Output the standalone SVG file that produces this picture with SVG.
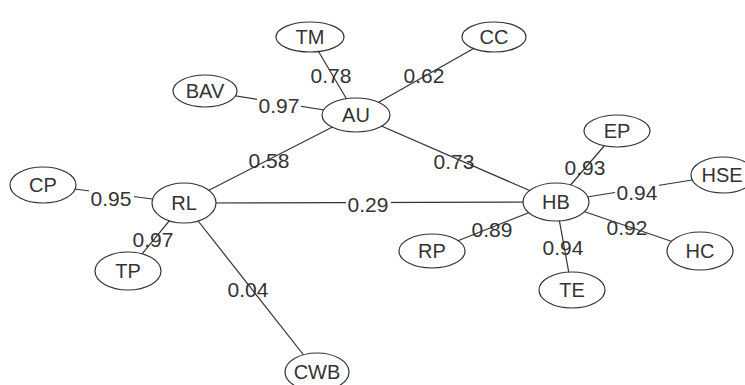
<svg xmlns="http://www.w3.org/2000/svg" width="745" height="385" viewBox="0 0 745 385">
  <style>
    .edge { stroke: #333; stroke-width: 1.2; fill: none; }
    .node ellipse { fill: #fff; stroke: #333; stroke-width: 1.2; }
    text { font-family: "Liberation Sans", Arial, sans-serif; font-size: 20px; fill: #333; text-anchor: middle; }
    .lbl { font-size: 21px; }
    .bg { fill: #fff; }
  </style>
  <rect width="745" height="385" fill="#fff"/>

  <!-- connectors, centre to centre; ellipses are painted over the ends -->
  <g id="connectors">
    <line class="edge" x1="310" y1="37" x2="356" y2="115"/>
    <line class="edge" x1="494" y1="37" x2="356" y2="115"/>
    <line class="edge" x1="205" y1="91" x2="356" y2="115"/>
    <line class="edge" x1="184" y1="203" x2="356" y2="115"/>
    <line class="edge" x1="356" y1="115" x2="556" y2="202"/>
    <line class="edge" x1="184" y1="203" x2="556" y2="202"/>
    <line class="edge" x1="43" y1="185" x2="184" y2="203"/>
    <line class="edge" x1="128" y1="271" x2="184" y2="203"/>
    <line class="edge" x1="317" y1="372" x2="184" y2="203"/>
    <line class="edge" x1="617" y1="131" x2="556" y2="202"/>
    <line class="edge" x1="723" y1="175" x2="556" y2="202"/>
    <line class="edge" x1="700" y1="251" x2="556" y2="202"/>
    <line class="edge" x1="572" y1="290" x2="556" y2="202"/>
    <line class="edge" x1="432" y1="251" x2="556" y2="202"/>

    <!-- loading labels -->
    <text class="lbl" x="331" y="83">0.78</text>
    <text class="lbl" x="424" y="83">0.62</text>
    <rect class="bg" x="257" y="96" width="44" height="18"/>
    <text class="lbl" x="279" y="113">0.97</text>
    <text class="lbl" x="269" y="168">0.58</text>
    <text class="lbl" x="454" y="169">0.73</text>
    <rect class="bg" x="346" y="195" width="45" height="18"/>
    <text class="lbl" x="368" y="212">0.29</text>
    <rect class="bg" x="89" y="189" width="45" height="18"/>
    <text class="lbl" x="111" y="206">0.95</text>
    <text class="lbl" x="153" y="247">0.97</text>
    <text class="lbl" x="248" y="297">0.04</text>
    <text class="lbl" x="585" y="175">0.93</text>
    <rect class="bg" x="615" y="184" width="44" height="18"/>
    <text class="lbl" x="637" y="200">0.94</text>
    <text class="lbl" x="627" y="235">0.92</text>
    <text class="lbl" x="563" y="255">0.94</text>
    <text class="lbl" x="492" y="237">0.89</text>
  </g>

  <g id="TM" class="node"><ellipse cx="310" cy="37" rx="34" ry="15"/><text x="310" y="44">TM</text></g>
  <g id="CC" class="node"><ellipse cx="494" cy="37" rx="32" ry="15"/><text x="494" y="44">CC</text></g>
  <g id="BAV" class="node"><ellipse cx="205" cy="91" rx="32" ry="16"/><text x="205" y="98">BAV</text></g>
  <g id="AU" class="node"><ellipse cx="356" cy="115" rx="34" ry="17"/><text x="356" y="122">AU</text></g>
  <g id="CP" class="node"><ellipse cx="43" cy="185" rx="33" ry="18"/><text x="43" y="192">CP</text></g>
  <g id="RL" class="node"><ellipse cx="184" cy="203" rx="32" ry="20"/><text x="184" y="210">RL</text></g>
  <g id="TP" class="node"><ellipse cx="128" cy="271" rx="33" ry="19"/><text x="128" y="278">TP</text></g>
  <g id="CWB" class="node"><ellipse cx="317" cy="372" rx="32" ry="19"/><text x="317" y="379">CWB</text></g>
  <g id="EP" class="node"><ellipse cx="617" cy="131" rx="33" ry="16"/><text x="617" y="138">EP</text></g>
  <g id="HSE" class="node"><ellipse cx="723" cy="175" rx="32" ry="18"/><text x="722" y="182">HSE</text></g>
  <g id="HB" class="node"><ellipse cx="556" cy="202" rx="33" ry="19"/><text x="556" y="209">HB</text></g>
  <g id="RP" class="node"><ellipse cx="432" cy="251" rx="33" ry="17"/><text x="432" y="258">RP</text></g>
  <g id="TE" class="node"><ellipse cx="572" cy="290" rx="33" ry="18"/><text x="572" y="297">TE</text></g>
  <g id="HC" class="node"><ellipse cx="700" cy="251" rx="33" ry="19"/><text x="700" y="258">HC</text></g>
</svg>
